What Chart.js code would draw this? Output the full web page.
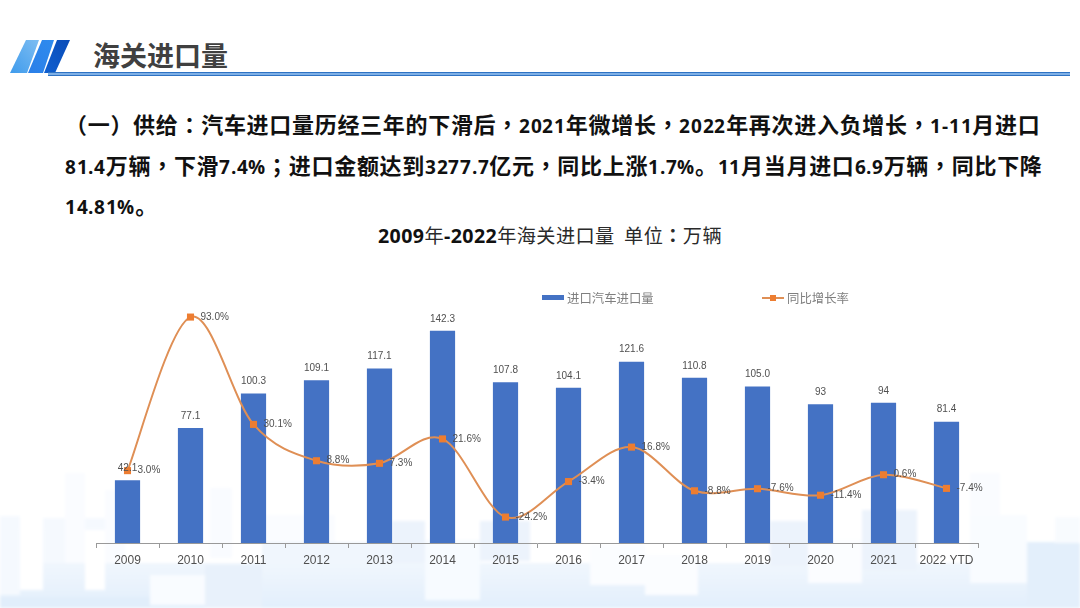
<!DOCTYPE html>
<html lang="zh-Hans">
<head>
<meta charset="utf-8">
<script src="https://cdn.jsdelivr.net/npm/chart.js@4"></script>
<style>
@font-face{font-family:"LatinBold";src:local("Open Sans Bold"),local("OpenSans-Bold"),local("Liberation Sans Bold");font-weight:700;size-adjust:88%;unicode-range:U+20-7E;}
html,body{margin:0;padding:0;background:#fff;}
#slide{position:relative;width:1080px;height:608px;overflow:hidden;background:#fff;filter:blur(.35px);}
#bg,#hd{position:absolute;left:0;top:0;}
#chart{position:absolute;left:0;top:0;width:1080px;height:608px;}
.t{position:absolute;white-space:pre;}
#heading{left:93px;top:36px;font:700 27px/38px "Noto Sans CJK SC",sans-serif;color:#404040;}
.body{left:65px;font-weight:700;font-size:22px;line-height:30px;color:#111;letter-spacing:.7px;font-family:"LatinBold","Noto Sans CJK SC",sans-serif;}
.p{font-family:"Noto Sans CJK TC",sans-serif;font-variant-east-asian:traditional;line-height:0;}
#ctitle{left:378px;top:221px;font-weight:400;font-size:19.2px;line-height:28px;letter-spacing:.4px;color:#2a2a2a;font-family:"Noto Sans CJK SC",sans-serif;}
#ctitle b{font-family:"Open Sans",sans-serif;font-weight:700;font-size:19.6px;color:#111;line-height:0;}
#ctitle .p{font-weight:700;}
.lg{position:absolute;top:289px;font:12.4px/18px "Noto Sans CJK SC",sans-serif;color:#7f7f7f;white-space:nowrap;}
</style>
</head>
<body>
<div id="slide">
<svg id="bg" width="1080" height="608">
<defs>
<filter id="b" x="-5%" y="-5%" width="110%" height="110%"><feGaussianBlur stdDeviation="1.6"/></filter>
<linearGradient id="g" x1="0" y1="0" x2="0" y2="1"><stop offset="0" stop-color="#f0f6fd"/><stop offset="1" stop-color="#e2effc"/></linearGradient>
</defs>
<g filter="url(#b)">
<rect x="0" y="516" width="20" height="80" fill="#f5f9fe"/>
<rect x="43" y="518" width="62" height="75" fill="#f5f9fe"/>
<rect x="65" y="473" width="20" height="100" fill="#fafcff"/>
<rect x="105" y="490" width="20" height="80" fill="#fafcff"/>
<rect x="210" y="488" width="22" height="70" fill="#f9fbff"/>
<rect x="265" y="515" width="70" height="40" fill="#fafcff"/>
<rect x="262" y="542" width="130" height="66" fill="#f0f6fd"/>
<rect x="392" y="521" width="33" height="60" fill="#ecf3fc"/>
<rect x="480" y="521" width="50" height="40" fill="#ecf3fc"/>
<rect x="0" y="563" width="1080" height="45" fill="url(#g)"/>
<rect x="0" y="555" width="20" height="40" fill="#f5f9fe"/>
<rect x="20" y="530" width="23" height="60" fill="#ffffff"/>
<rect x="85" y="530" width="20" height="60" fill="#ffffff"/>
<rect x="150" y="575" width="55" height="30" fill="#f9fcff"/>
<rect x="205" y="565" width="57" height="43" fill="#e8f1fb"/>
<rect x="425" y="540" width="55" height="60" fill="#f7fbff"/>
<rect x="590" y="545" width="55" height="40" fill="#fbfdff"/>
<rect x="645" y="555" width="53" height="40" fill="#fbfdff"/>
<rect x="770" y="521" width="38" height="45" fill="#ecf3fc"/>
<rect x="808" y="540" width="54" height="43" fill="#fbfdff"/>
<rect x="862" y="510" width="55" height="60" fill="#ecf3fc"/>
<rect x="970" y="473" width="30" height="60" fill="#fafcff"/>
<rect x="970" y="515" width="57" height="68" fill="#f9fcff"/>
<rect x="1027" y="542" width="53" height="66" fill="#e3effb"/>
<rect x="1055" y="517" width="25" height="26" fill="#f8fbfe"/>
<rect x="0" y="597" width="150" height="11" fill="#e1eefb"/>
</g>
</svg>
<svg id="hd" width="1080" height="90">
<defs>
<linearGradient id="s1" x1="0" y1="1" x2="1" y2="0"><stop offset="0" stop-color="#3f9bec"/><stop offset="1" stop-color="#7dbdf2"/></linearGradient>
<linearGradient id="s2" x1="0" y1="1" x2="1" y2="0"><stop offset="0" stop-color="#2a7fe8"/><stop offset="1" stop-color="#2f8bee"/></linearGradient>
<linearGradient id="s3" x1="0" y1="1" x2="1" y2="0"><stop offset="0" stop-color="#0f5fd0"/><stop offset="1" stop-color="#0a4cb8"/></linearGradient>
</defs>
<polygon points="10,73 27,73 39,40 26,40" fill="url(#s1)"/>
<polygon points="28,73 43,73 54,40 42,40" fill="url(#s2)"/>
<polygon points="44,73 55,73 70,40 57,40" fill="url(#s3)"/>
<rect x="48" y="72" width="1022" height="4" fill="#2f73c4"/>
<rect x="48" y="73" width="1022" height="2" fill="#7fb0e6"/>
</svg>
<div id="heading" class="t">海关进口量</div>
<div class="t body" style="top:111px">（一）供给：汽车进口量历经三年的下滑后，2021年微增长，2022年再次进入负增长，1-11月进口</div>
<div class="t body" style="top:152px">81.4万辆，下滑7.4%；进口金额达到3277.7亿元，同比上涨1.7%。11月当月进口6.9万辆，同比下降</div>
<div class="t body" style="top:192px">14.81%。</div>
<div id="ctitle" class="t">2009年-2022年海关进口量  单位：万辆</div>
<canvas id="chart" width="1080" height="608"></canvas>
<div id="lg"></div>
</div>
<script>
const categories = ["2009","2010","2011","2012","2013","2014","2015","2016","2017","2018","2019","2020","2021","2022 YTD"];
const barName = "进口汽车进口量";
const lineName = "同比增长率";
const barValues = [42.1,77.1,100.3,109.1,117.1,142.3,107.8,104.1,121.6,110.8,105.0,93,94,81.4];
const barLabels = ["42.1","77.1","100.3","109.1","117.1","142.3","107.8","104.1","121.6","110.8","105.0","93","94","81.4"];
const growthValues = [3.0,93.0,30.1,8.8,7.3,21.6,-24.2,-3.4,16.8,-8.8,-7.6,-11.4,0.6,-7.4];

// centred full-width punctuation, as in the original slide
document.querySelectorAll('.body').forEach(el=>{
  el.innerHTML = el.textContent.replace(/[：；，]/g,'<span class="p" lang="zh-Hant">$&</span>');
});
const ct = document.getElementById('ctitle');
ct.innerHTML = ct.textContent.replace(/[0-9-]+/g,'<b>$&</b>').replace(/：/g,'<span class="p" lang="zh-Hant">$&</span>');

const labelPlugin = {
  id:'valueLabels',
  afterDatasetsDraw(chart){
    const ctx = chart.ctx;
    ctx.save();
    ctx.font = '10px "Liberation Sans", sans-serif';
    ctx.fillStyle = '#505050';
    ctx.textBaseline = 'middle';
    ctx.textAlign = 'center';
    chart.getDatasetMeta(0).data.forEach((el,i)=>ctx.fillText(barLabels[i], el.x, el.y-12));
    ctx.textAlign = 'left';
    chart.getDatasetMeta(1).data.forEach((el,i)=>ctx.fillText(growthValues[i].toFixed(1)+'%', el.x+10, el.y));
    ctx.restore();
  }
};

// Office-style smoothing: control points follow the chord between neighbouring points
const smoothPlugin = {
  id:'officeSmooth',
  beforeDatasetDraw(chart,args){
    const meta = chart.getDatasetMeta(args.index);
    if(meta.type!=='line') return;
    meta.dataset.updateControlPoints(chart.chartArea);
    const p = meta.data;
    p.forEach((el,i)=>{
      const a = p[Math.max(i-1,0)], b = p[Math.min(i+1,p.length-1)];
      const dx=(b.x-a.x)/6, dy=(b.y-a.y)/6;
      el.cp1x=el.x-dx; el.cp1y=el.y-dy; el.cp2x=el.x+dx; el.cp2y=el.y+dy;
    });
  }
};

const chart = new Chart(document.getElementById('chart'),{
  data:{
    labels:categories,
    datasets:[
      {type:'bar',label:barName,data:barValues,yAxisID:'y',backgroundColor:'#4472C4',barPercentage:0.4,categoryPercentage:1,order:2},
      {type:'line',label:lineName,data:growthValues,yAxisID:'y2',borderColor:'#DF8F55',borderWidth:2,tension:0.45,
       pointStyle:'rect',pointRadius:5,pointBackgroundColor:'#ED7D31',pointBorderWidth:0,order:1}
    ]
  },
  options:{
    responsive:false,animation:false,
    devicePixelRatio:1,
    layout:{padding:{left:96,right:102,top:300,bottom:0}},
    plugins:{legend:{display:false},title:{display:false},tooltip:{enabled:false}},
    scales:{
      x:{
        offset:true,
        afterFit(s){s.height=65;},
        grid:{display:true,drawOnChartArea:false,drawTicks:true,tickLength:5,color:'#999',offset:true},
        border:{display:true,color:'#999',width:1},
        ticks:{font:{family:'"Liberation Sans", sans-serif',size:12},color:'#505050',padding:5,maxRotation:0,autoSkip:false}
      },
      y:{display:false,min:0,max:163},
      y2:{display:false,min:-39.4,max:103}
    }
  },
  plugins:[labelPlugin,smoothPlugin]
});

document.getElementById('lg').innerHTML =
 '<div style="position:absolute;left:542px;top:295px;width:22px;height:5px;background:#4472C4"></div>'+
 '<div class="lg" style="left:567px">'+barName+'</div>'+
 '<div style="position:absolute;left:762px;top:297px;width:22px;height:2px;background:#DF8F55"></div>'+
 '<div style="position:absolute;left:770px;top:295px;width:6px;height:6px;background:#ED7D31"></div>'+
 '<div class="lg" style="left:787px">'+lineName+'</div>';
</script>
</body>
</html>
